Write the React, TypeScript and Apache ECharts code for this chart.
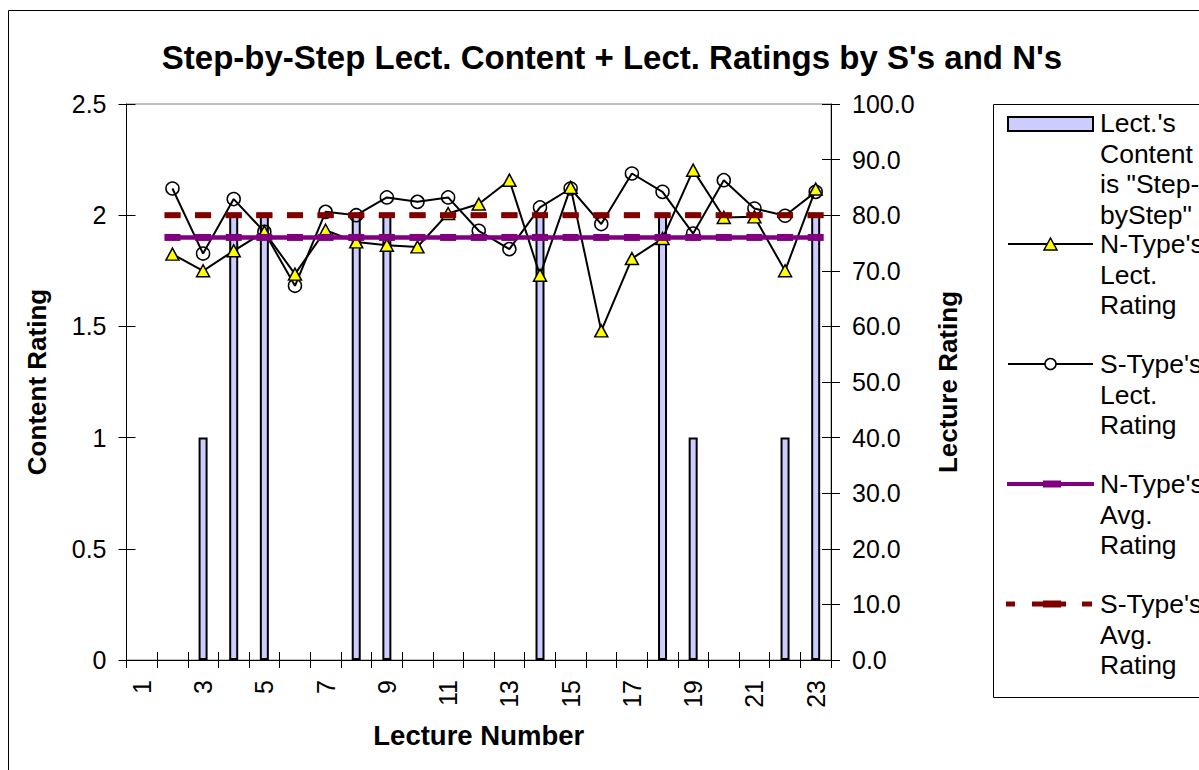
import React, { useEffect, useRef } from 'react';
import * as echarts from 'echarts';

const titleText = "Step-by-Step Lect. Content + Lect. Ratings by S's and N's";

const lectures = ['1', '2', '3', '4', '5', '6', '7', '8', '9', '10', '11', '12', '13', '14', '15', '16', '17', '18', '19', '20', '21', '22', '23'];

// Content rating (left axis): 2 = step-by-step, 1 = partly
const contentRating = [null, null, 1, 2, 2, null, null, 2, 2, null, null, null, null, 2, null, null, null, 2, 1, null, null, 1, 2];

// Lecture ratings (right axis)
const nTypeRating = [null, 73.0, 70.0, 73.6, 77.0, 69.4, 77.3, 75.2, 74.6, 74.3, 80.3, 82.0, 86.3, 69.2, 85.0, 59.2, 72.2, 75.8, 88.1, 79.6, 79.7, 70.0, 84.7];
const sTypeRating = [null, 84.8, 73.1, 82.9, 77.0, 67.3, 80.6, 80.0, 83.2, 82.4, 83.2, 77.2, 73.9, 81.4, 84.8, 78.4, 87.5, 84.2, 76.7, 86.3, 81.2, 79.9, 84.2];

const nTypeAvg = [null, 76, 76, 76, 76, 76, 76, 76, 76, 76, 76, 76, 76, 76, 76, 76, 76, 76, 76, 76, 76, 76, 76];
const sTypeAvg = [null, 80, 80, 80, 80, 80, 80, 80, 80, 80, 80, 80, 80, 80, 80, 80, 80, 80, 80, 80, 80, 80, 80];

const legendLabels = [
  ["Lect.'s", 'Content', 'is "Step-', 'byStep"'],
  ["N-Type's", 'Lect.', 'Rating'],
  ["S-Type's", 'Lect.', 'Rating'],
  ["N-Type's", 'Avg.', 'Rating'],
  ["S-Type's", 'Avg.', 'Rating'],
];

const FONT = '"Liberation Sans", Arial, Helvetica, sans-serif';

export default function App() {
  const ref = useRef<HTMLDivElement>(null);

  useEffect(() => {
    if (!ref.current) return;
    const chart = echarts.init(ref.current, null, { renderer: 'svg' });

    const tickLabel = { fontFamily: FONT, fontSize: 25, color: '#000' };
    const nameStyle = { fontFamily: FONT, fontSize: 26, fontWeight: 'bold' as const, color: '#000' };

    const legendTops = [123, 244, 364, 484, 604];
    const legendGraphics: any[] = [];
    legendLabels.forEach((lines, i) => {
      legendGraphics.push({
        type: 'text',
        x: 1100,
        y: legendTops[i] - 15.25,
        z: 20,
        style: {
          text: lines.join('\n'),
          fontFamily: FONT,
          fontSize: 26.5,
          lineHeight: 30.5,
          fill: '#000',
          align: 'left',
          verticalAlign: 'top',
        },
      });
    });

    const option: any = {
      animation: false,
      backgroundColor: '#fff',
      grid: {
        left: 126.5,
        right: 368,
        top: 104,
        bottom: 110,
        show: true,
        borderColor: '#808080',
        borderWidth: 1,
        backgroundColor: 'transparent',
      },
      graphic: [
        {
          type: 'rect',
          z: 0,
          shape: { x: 8.5, y: 10.5, width: 1400, height: 900 },
          style: { fill: 'none', stroke: '#000', lineWidth: 1 },
        },
        {
          type: 'text',
          x: 612,
          y: 57,
          z: 20,
          style: {
            text: titleText,
            fontFamily: FONT,
            fontSize: 33,
            fontWeight: 'bold',
            fill: '#000',
            align: 'center',
            verticalAlign: 'middle',
          },
        },
        {
          type: 'rect',
          z: 10,
          shape: { x: 993.5, y: 104.5, width: 400, height: 593 },
          style: { fill: '#fff', stroke: '#000', lineWidth: 1 },
        },
        {
          type: 'rect',
          z: 20,
          shape: { x: 1008, y: 117, width: 85, height: 14 },
          style: { fill: '#ccccff', stroke: '#000', lineWidth: 2 },
        },
        {
          type: 'line',
          z: 20,
          shape: { x1: 1008, y1: 244, x2: 1093, y2: 244 },
          style: { stroke: '#000', lineWidth: 2 },
        },
        {
          type: 'polygon',
          z: 21,
          shape: { points: [[1050.5, 238], [1057, 250], [1044, 250]] },
          style: { fill: '#ffff00', stroke: '#000', lineWidth: 1.5 },
        },
        {
          type: 'line',
          z: 20,
          shape: { x1: 1008, y1: 364, x2: 1093, y2: 364 },
          style: { stroke: '#000', lineWidth: 2 },
        },
        {
          type: 'circle',
          z: 21,
          shape: { cx: 1050.5, cy: 364, r: 5.5 },
          style: { fill: '#fff', stroke: '#000', lineWidth: 1.5 },
        },
        {
          type: 'line',
          z: 20,
          shape: { x1: 1007, y1: 484, x2: 1094, y2: 484 },
          style: { stroke: '#800080', lineWidth: 4 },
        },
        {
          type: 'rect',
          z: 21,
          shape: { x: 1043, y: 480.5, width: 18, height: 7 },
          style: { fill: '#800080' },
        },
        { type: 'rect', z: 20, shape: { x: 1006, y: 601.5, width: 9, height: 5 }, style: { fill: '#800000' } },
        { type: 'rect', z: 20, shape: { x: 1032, y: 601.5, width: 34, height: 5 }, style: { fill: '#800000' } },
        { type: 'rect', z: 21, shape: { x: 1043, y: 600.5, width: 18, height: 7 }, style: { fill: '#800000' } },
        { type: 'rect', z: 20, shape: { x: 1082, y: 601.5, width: 10, height: 5 }, style: { fill: '#800000' } },
        ...legendGraphics,
      ],
      xAxis: [
        {
          type: 'category',
          data: lectures,
          position: 'bottom',
          boundaryGap: true,
          axisLine: { show: true, lineStyle: { color: '#000', width: 1 } },
          axisTick: { show: true, interval: 0, length: 8, alignWithLabel: false, lineStyle: { color: '#000' } },
          axisLabel: { interval: 1, rotate: 90, margin: 20, ...tickLabel },
          splitLine: { show: false },
          name: 'Lecture Number',
          nameLocation: 'middle',
          nameGap: 61,
          nameTextStyle: { ...nameStyle, fontSize: 27.5 },
        },
        {
          type: 'category',
          data: lectures,
          position: 'bottom',
          boundaryGap: true,
          axisLine: { show: false },
          axisTick: { show: true, inside: true, interval: 0, length: 8, lineStyle: { color: '#000' } },
          axisLabel: { show: false },
          splitLine: { show: false },
        },
      ],
      yAxis: [
        {
          type: 'value',
          position: 'left',
          min: 0,
          max: 2.5,
          interval: 0.5,
          axisLine: { show: true, lineStyle: { color: '#000', width: 1 } },
          axisTick: { show: true, length: 8, lineStyle: { color: '#000' } },
          axisLabel: { margin: 20, ...tickLabel },
          splitLine: { show: false },
          name: 'Content Rating',
          nameLocation: 'middle',
          nameRotate: 90,
          nameGap: 77,
          nameTextStyle: nameStyle,
        },
        {
          type: 'value',
          position: 'right',
          min: 0,
          max: 100,
          interval: 10,
          axisLine: { show: true, lineStyle: { color: '#000', width: 1 } },
          axisTick: { show: true, length: 9, lineStyle: { color: '#000' } },
          axisLabel: { margin: 21, formatter: (v: number) => v.toFixed(1), ...tickLabel },
          splitLine: { show: false },
          name: 'Lecture Rating',
          nameLocation: 'middle',
          nameRotate: 90,
          nameGap: 104,
          nameTextStyle: nameStyle,
        },
        {
          type: 'value',
          position: 'left',
          min: 0,
          max: 2.5,
          interval: 0.5,
          axisLine: { show: false },
          axisTick: { show: true, inside: true, length: 9, lineStyle: { color: '#000' } },
          axisLabel: { show: false },
          splitLine: { show: false },
        },
        {
          type: 'value',
          position: 'right',
          min: 0,
          max: 100,
          interval: 10,
          axisLine: { show: false },
          axisTick: { show: true, inside: true, length: 9, lineStyle: { color: '#000' } },
          axisLabel: { show: false },
          splitLine: { show: false },
        },
      ],
      series: [
        {
          name: "Lect.'s Content is \"Step-byStep\"",
          type: 'bar',
          xAxisIndex: 0,
          yAxisIndex: 0,
          data: contentRating,
          barWidth: 9,
          itemStyle: { color: '#ccccff', borderColor: '#000', borderWidth: 2 },
          z: 2,
        },
        {
          name: "N-Type's Lect. Rating",
          type: 'line',
          xAxisIndex: 0,
          yAxisIndex: 1,
          data: nTypeRating,
          symbol: 'triangle',
          symbolSize: [13, 12],
          showAllSymbol: true,
          lineStyle: { color: '#000', width: 2 },
          itemStyle: { color: '#ffff00', borderColor: '#000', borderWidth: 1.5 },
          z: 4,
        },
        {
          name: "S-Type's Lect. Rating",
          type: 'line',
          xAxisIndex: 0,
          yAxisIndex: 1,
          data: sTypeRating,
          symbol: 'circle',
          symbolSize: 13,
          showAllSymbol: true,
          lineStyle: { color: '#000', width: 2 },
          itemStyle: { color: 'rgba(255,255,255,0)', borderColor: '#000', borderWidth: 1.5 },
          z: 3,
        },
        {
          name: "N-Type's Avg. Rating",
          type: 'line',
          xAxisIndex: 0,
          yAxisIndex: 1,
          data: nTypeAvg,
          symbol: 'rect',
          symbolSize: [16, 7],
          showAllSymbol: true,
          lineStyle: { color: '#800080', width: 4.5 },
          itemStyle: { color: '#800080' },
          z: 5,
        },
        {
          name: "S-Type's Avg. Rating",
          type: 'line',
          xAxisIndex: 0,
          yAxisIndex: 1,
          data: sTypeAvg,
          symbol: 'rect',
          symbolSize: [16, 6],
          showAllSymbol: true,
          lineStyle: { color: '#800000', width: 5, type: [16, 14.63], dashOffset: 8 },
          itemStyle: { color: '#800000' },
          z: 5,
        },
      ],
    };

    chart.setOption(option);
    return () => chart.dispose();
  }, []);

  return (
    <div
      ref={ref}
      style={{ position: 'fixed', left: 0, top: 0, width: 1199, height: 770, background: '#fff' }}
    />
  );
}
